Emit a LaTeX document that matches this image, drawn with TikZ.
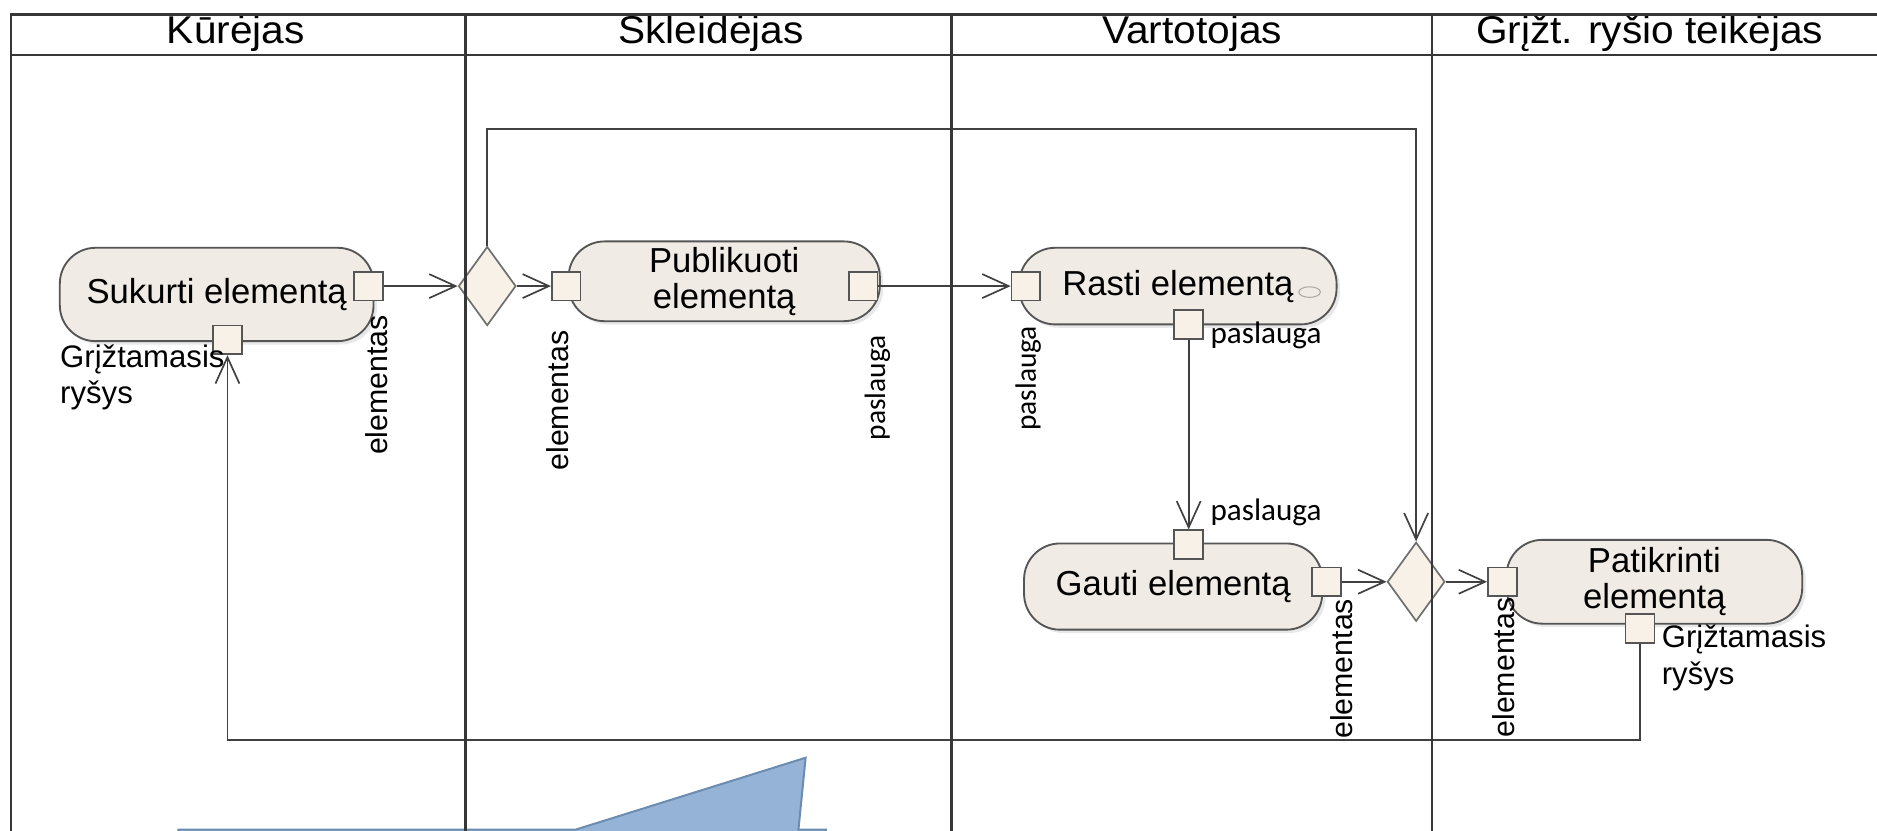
\documentclass[tikz,border=0pt]{standalone}
\usepackage{fontspec}
\setmainfont{Liberation Sans}
\newfontfamily\calib{Carlito}
\usetikzlibrary{arrows.meta,shapes.geometric,shadows}
\definecolor{actfill}{RGB}{240,236,229}
\definecolor{actdraw}{RGB}{85,85,85}
\definecolor{portfill}{RGB}{247,241,231}
\definecolor{lanedraw}{RGB}{55,55,55}
\definecolor{noteblue}{RGB}{149,179,215}
\definecolor{notedraw}{RGB}{108,140,176}
\tikzset{
  act/.style={draw=actdraw,fill=actfill,line width=1.1pt,rounded corners=0.75cm,align=center,
    font=\fontsize{20.6}{21.5}\selectfont,
    drop shadow={opacity=0.18,shadow xshift=0.07cm,shadow yshift=-0.07cm}},
  portbox/.style={draw=actdraw,fill=portfill,line width=1pt,minimum size=0.6cm,inner sep=0pt},
  dec/.style={diamond,draw=actdraw!85,fill=portfill,line width=1pt,minimum width=1.2cm,minimum height=1.65cm,inner sep=0pt},
  flow/.style={draw=black!75,line width=1pt,-{Straight Barb[length=0.55cm,width=0.5cm,line width=1pt]}},
  vlab/.style={rotate=90,anchor=east,inner sep=0pt,font=\fontsize{18}{18}\selectfont},
  plab/.style={inner sep=0pt,font=\calib\fontsize{18.5}{18.5}\selectfont},
  vplab/.style={rotate=90,anchor=east,inner sep=0pt,font=\calib\fontsize{17.5}{17.5}\selectfont},
  fblab/.style={anchor=north west,align=left,inner sep=0pt,font=\fontsize{18.5}{21.5}\selectfont},
  lane/.style={draw=lanedraw,line width=1.4pt}
}
\begin{document}
\begin{tikzpicture}[x=0.025cm,y=-0.025cm]
\pgfmathsetmacro{\kra}{239}
\pgfmathsetmacro{\krb}{486}
\useasboundingbox (0,0) rectangle (1568,694);
% lane titles
\foreach \kx/\hlb in {197/{Kūrėjas},594/{Skleidėjas},996/{Vartotojas},1378/{Grįžt. ryšio teikėjas}}{
  \node[font=\fontsize{23}{23}\selectfont] (h\kx) at (\kx,28) {\scalebox{1.05}[1]{\hlb}};}
% actions
\node[act,minimum width=6.55cm,minimum height=1.95cm] (sukurti) at (181,246) {Sukurti elementą};
\node[act,minimum width=6.5cm,minimum height=1.65cm] (publ) at (605,235) {Publikuoti\\elementą};
\node[act,minimum width=6.625cm,minimum height=1.6cm] (rasti) at (984,239) {Rasti elementą};
\node[act,minimum width=6.225cm,minimum height=1.8cm] (gauti) at (980,490) {Gauti elementą};
\node[act,minimum width=6.175cm,minimum height=1.75cm] (patikr) at (1382,486) {Patikrinti\\elementą};
\node[ellipse,draw=gray!70,line width=0.6pt,minimum width=0.45cm,minimum height=0.22cm,inner sep=0pt] (rk) at (1094,244) {};
% pins
\foreach \kn/\kx/\ky in {p1r/308/\kra,p1b/190/284,p2l/473/\kra,p2r/721/\kra,p3l/857/\kra,p3b/993/271,
  p4t/993/455,p4r/1108/\krb,p5l/1255/\krb,p5b/1370/525}{\node[portbox] (\kn) at (\kx,\ky) {};}
% decisions
\node[dec] (d1) at (407,\kra) {};
\node[dec] (d2) at (1183,\krb) {};
% pin labels
\node[vlab] (e1) at (315,263) {elementas};
\node[vlab] (e2) at (466,276) {elementas};
\node[vlab] (e3) at (1121,500) {elementas};
\node[vlab] (e4) at (1256,499) {elementas};
\node[vplab] (s1) at (733,280) {paslauga};
\node[vplab] (s2) at (859,272) {paslauga};
\node[plab,anchor=west] (s3) at (1011,280) {paslauga};
\node[plab,anchor=west] (s4) at (1011,428) {paslauga};
\node[fblab] (g1) at (50,288) {Grįžtamasis\\ryšys};
\node[fblab] (g2) at (1388,522) {Grįžtamasis\\ryšys};
% flows
\coordinate (ktop) at (0,108);
\coordinate (kbot) at (0,618);
\draw[flow] (p1r) -- (d1);
\draw[flow] (d1) -- (p2l);
\draw[flow] (p2r) -- (p3l);
\draw[flow] (p3b) -- (p4t);
\draw[flow] (p4r) -- (d2);
\draw[flow] (d2) -- (p5l);
\draw[flow] (d1.north) -- (d1.north |- ktop) -| (d2.north);
\draw[flow] (p5b.south) -- (p5b.south |- kbot) -| (p1b.south);
% note callout at the bottom
\draw[fill=noteblue,draw=notedraw,line width=1.2pt] (149,720) -- (149,693) -- (481,693) -- (673,633) -- (667,693) -- (690,693) -- (690,720);
% lanes
\draw[lane] (1568,12) -- (9,12) -- (9,694);
\draw[lane] (9,46) -- (1568,46);
\foreach \kx in {389,795,1196}{\draw[lane] (\kx,12) -- (\kx,694);}
\end{tikzpicture}
\end{document}
